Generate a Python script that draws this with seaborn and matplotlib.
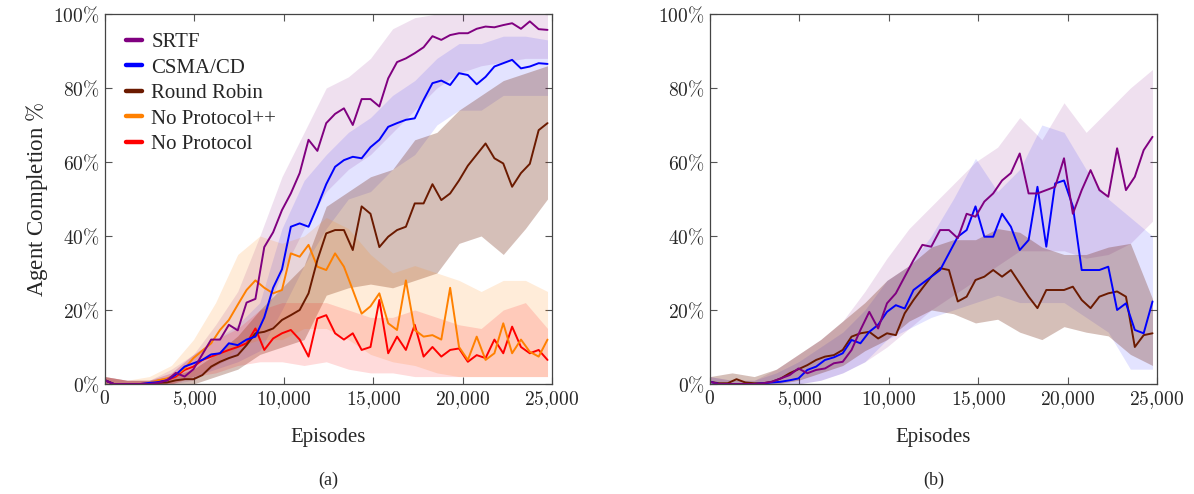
import numpy as np
import pandas as pd
import seaborn as sns
import matplotlib
matplotlib.use('Agg')
from matplotlib import pyplot as plt
from matplotlib.ticker import FuncFormatter

#%% data (agent completion in %)
episodes = np.linspace(0, 24750, 51)

# (a) left panel
a_srtf = [1, 0, 0, 0, 0, 0, 0.3, 1, 3, 2, 4, 8, 12, 12, 16, 14.5, 22, 23, 37, 41,
          47, 51.5, 57, 66, 63, 70.5, 73, 74.5, 70, 77, 77, 75, 82.6, 87, 88, 89.4,
          91, 94, 93, 94.3, 94.8, 94.8, 96, 96.6, 96.4, 97, 97.5, 96, 98, 95.9, 95.7]
a_csma = [1, 0, 0, 0, 0, 0.3, 0.5, 1, 2.5, 4.7, 5.6, 6.5, 8, 8.3, 11, 10.5, 12, 12.8,
          18, 26, 31, 42.5, 43.4, 42.5, 48, 54, 58.7, 60.5, 61.4, 61, 64, 66, 69.5,
          70.5, 71.4, 71.8, 76.8, 81.3, 82, 80.8, 84, 83.5, 81, 83, 85.8, 86.7, 87.6,
          85.3, 85.8, 86.7, 86.5]
a_rr = [1, 0, 0, 0, 0, 0, 0.3, 0.4, 1, 1.3, 1.3, 2.4, 4.7, 6, 7, 7.8, 10.5, 13.7, 14.1,
        15, 17.3, 18.6, 20, 24.5, 33.5, 40.7, 41.6, 41.6, 36.2, 48, 46, 37, 39.8, 41.6,
        42.5, 48.8, 48.8, 54, 49.7, 51.5, 55, 59, 62, 65, 61, 59.6, 53.3, 57, 59.5,
        68.6, 70.5]
a_nopp = [1, 0, 0, 0, 0, 0.2, 1, 1.5, 2.4, 4.2, 7, 9, 11, 14.6, 17.3, 21.4, 25.4, 28,
          26, 24.5, 25.4, 35.3, 34.4, 37.6, 31.7, 30.8, 35.3, 31.7, 25.4, 19, 21, 24.5,
          16.4, 14.6, 28, 14.6, 12.8, 13.2, 12, 26, 10, 6.5, 12.8, 6.5, 8.3, 16.4, 8.3,
          12, 8.7, 7.4, 12]
a_nop = [1, 0, 0, 0, 0, 0.2, 0.6, 1, 2, 3.8, 4.7, 6.5, 7.4, 8.3, 9.2, 10, 11, 15, 9.2,
         12.3, 13.7, 14.6, 12, 7.4, 17.7, 18.6, 13.7, 12, 13.7, 9.2, 10, 22.7, 8.3, 12.8,
         9.2, 16, 7.4, 10, 7.4, 9.2, 9.6, 6, 7.8, 7, 12, 8.3, 15.5, 10, 8.3, 9.2, 6.5]

# (b) right panel
b_srtf = [0.6, 0, 0, 0, 0, 0, 0.2, 0.6, 1.5, 2.4, 4.2, 2.9, 3.8, 4.2, 5.6, 6, 9.2, 14.6,
          19.5, 15, 21.8, 24.5, 29, 33.5, 37.6, 37.1, 41.6, 41.6, 39.4, 46, 45.2, 49.3,
          51.5, 55, 57, 62.3, 51.5, 51.5, 52.4, 53.3, 61, 46, 52.4, 57.8, 52.4, 50.6,
          63.7, 52.4, 56, 63.2, 66.8]
b_csma = [0.6, 0, 0, 0, 0, 0, 0.2, 0.4, 0.6, 1, 1.5, 3.8, 4.7, 6.5, 7.2, 8.3, 11.9, 11,
          14.1, 16, 19.5, 21.3, 20.4, 25.4, 27.2, 29, 30.8, 35.3, 39.8, 41.6, 48, 39.8,
          39.8, 46, 42.5, 36.2, 38.9, 53.3, 37.1, 54.2, 55, 48, 30.8, 30.8, 30.8, 31.7,
          20, 21.8, 14.6, 13.7, 22.3]
b_rr = [0.6, 0.2, 0.2, 1.3, 0.4, 0.2, 0.2, 0.6, 1.5, 2.9, 4, 5.1, 6.5, 7.4, 7.8, 9.2,
        12.8, 13.7, 14.1, 12.3, 13.7, 13.2, 19.1, 22.7, 25.9, 29, 31.3, 30.8, 22.3, 23.6,
        28.1, 29, 30.8, 29, 30.8, 27.2, 23.6, 20.5, 25.4, 25.4, 25.4, 26.3, 22.7, 20.5,
        23.6, 24.5, 25, 23.6, 10, 13.2, 13.7]

# spread bands (min / max over runs), coarser grid
band_episodes = np.linspace(0, 24750, 21)
a_srtf_lo = [0, 0, 0, 0, 1, 5, 8, 15, 30, 42, 52, 58, 62, 68, 74, 80, 84, 86, 87, 88, 88]
a_srtf_hi = [2, 1, 1, 4, 8, 16, 25, 40, 56, 68, 80, 83, 88, 96, 99, 100, 100, 100, 100, 100, 100]
a_csma_lo = [0, 0, 0, 0, 2, 4, 6, 9, 20, 32, 42, 50, 52, 58, 62, 70, 74, 74, 78, 78, 78]
a_csma_hi = [2, 1, 1, 3, 8, 12, 16, 22, 42, 55, 62, 68, 72, 78, 82, 88, 92, 92, 94, 94, 93]
a_rr_lo = [0, 0, 0, 0, 0, 2, 4, 8, 10, 12, 24, 26, 27, 26, 28, 30, 38, 40, 35, 42, 50]
a_rr_hi = [2, 1, 1, 2, 4, 8, 13, 20, 26, 32, 48, 52, 56, 58, 66, 68, 74, 78, 82, 84, 86]
a_nopp_lo = [0, 0, 0, 0, 2, 5, 10, 12, 12, 15, 15, 12, 8, 6, 5, 3, 2, 2, 2, 2, 2]
a_nopp_hi = [2, 1, 2, 5, 12, 22, 35, 40, 38, 40, 45, 42, 35, 30, 32, 30, 28, 25, 28, 28, 25]
a_nop_lo = [0, 0, 0, 0, 2, 3, 5, 6, 6, 5, 6, 4, 3, 3, 2, 2, 2, 2, 2, 2, 2]
a_nop_hi = [2, 1, 1, 3, 8, 12, 15, 20, 22, 22, 22, 20, 18, 18, 20, 18, 16, 15, 20, 22, 15]

b_srtf_lo = [0, 0, 0, 0, 0, 1, 3, 6, 10, 15, 20, 24, 28, 32, 36, 36, 36, 34, 35, 38, 44]
b_srtf_hi = [2, 1, 1, 4, 8, 12, 17, 25, 34, 42, 48, 54, 60, 64, 72, 66, 76, 68, 74, 80, 85]
b_csma_lo = [0, 0, 0, 0, 0, 1, 3, 6, 12, 15, 18, 20, 22, 24, 22, 22, 22, 18, 14, 4, 4]
b_csma_hi = [2, 1, 1, 3, 6, 10, 14, 20, 28, 32, 40, 50, 61, 52, 58, 70, 68, 58, 50, 45, 40]
b_rr_lo = [0, 0, 0, 0, 1, 3, 5, 9, 12, 17, 20, 19, 16.5, 17.5, 14, 12, 15.5, 14, 13, 8, 5]
b_rr_hi = [2, 3, 2, 4, 8, 12, 17, 22, 28, 32, 37, 39, 39, 42, 41, 37, 35, 35, 37, 38, 23]

names = ['SRTF', 'CSMA/CD', 'Round Robin', 'No Protocol++', 'No Protocol']
colors = {'SRTF': '#800080', 'CSMA/CD': '#0000ff', 'Round Robin': '#6b1a00',
          'No Protocol++': '#ff8000', 'No Protocol': '#ff0000'}

panel_a = {'SRTF': (a_srtf, a_srtf_lo, a_srtf_hi),
           'CSMA/CD': (a_csma, a_csma_lo, a_csma_hi),
           'Round Robin': (a_rr, a_rr_lo, a_rr_hi),
           'No Protocol++': (a_nopp, a_nopp_lo, a_nopp_hi),
           'No Protocol': (a_nop, a_nop_lo, a_nop_hi)}
panel_b = {'SRTF': (b_srtf, b_srtf_lo, b_srtf_hi),
           'CSMA/CD': (b_csma, b_csma_lo, b_csma_hi),
           'Round Robin': (b_rr, b_rr_lo, b_rr_hi)}

#%% style
sns.set_theme(style='ticks')
plt.rcParams['font.family'] = ['Liberation Serif', 'DejaVu Serif']
plt.rcParams['mathtext.fontset'] = 'cm'

fig = plt.figure(figsize=(11.94, 4.94), dpi=100)
ax_a = fig.add_axes([0.0879, 0.2227, 0.3744, 0.749])
ax_b = fig.add_axes([0.5946, 0.2227, 0.3744, 0.749])

band_alpha = {'SRTF': 0.12, 'CSMA/CD': 0.11, 'Round Robin': 0.28,
              'No Protocol++': 0.15, 'No Protocol': 0.14}


def draw_panel(ax, panel, legend):
    for name, (_, lo, hi) in panel.items():
        ax.fill_between(band_episodes, lo, hi, color=colors[name],
                        alpha=band_alpha[name], lw=0)
    df = pd.concat([pd.DataFrame({'episode': episodes, 'completion': vals,
                                  'protocol': name})
                    for name, (vals, _, _) in panel.items()])
    order = [n for n in names if n in panel]
    sns.lineplot(data=df, x='episode', y='completion', hue='protocol',
                 hue_order=order[::-1], palette=colors, lw=1.4, ax=ax,
                 legend=legend)
    ax.set_xlim(0, 25000)
    ax.set_ylim(0, 100)
    ax.set_xticks(np.arange(0, 25001, 5000))
    ax.set_yticks(np.arange(0, 101, 20))
    ax.xaxis.set_major_formatter(FuncFormatter(
        lambda v, p: r'$%s$' % ('{:,}'.format(int(v)).replace(',', '{,}'))))
    ax.yaxis.set_major_formatter(FuncFormatter(lambda v, p: r'$%d\%%$' % v))
    ax.tick_params(direction='in', top=True, right=True, length=5,
                   width=0.8, color='#555555', labelsize=14, pad=4)
    for s in ax.spines.values():
        s.set_color('#444444')
        s.set_linewidth(0.9)
    ax.set_xlabel('')
    ax.set_ylabel('')


draw_panel(ax_a, panel_a, True)
draw_panel(ax_b, panel_b, False)

handles, labels = ax_a.get_legend_handles_labels()
lookup = dict(zip(labels, handles))
leg = ax_a.legend([lookup[n] for n in names], names, loc='upper left',
                  frameon=False, fontsize=15, handlelength=0.75,
                  handletextpad=0.45, labelspacing=0.28,
                  bbox_to_anchor=(0.006, 1.0))
for h in leg.legend_handles:
    h.set_linewidth(3.2)

ax_a.set_ylabel(r'Agent Completion $\%$', fontsize=16.5, labelpad=2)
for ax, tag in [(ax_a, '(a)'), (ax_b, '(b)')]:
    box = ax.get_position()
    cx = box.x0 + box.width / 2
    fig.text(cx, 0.115, 'Episodes', ha='center', va='center', fontsize=15)
    fig.text(cx, 0.028, tag, ha='center', va='center', fontsize=13)

plt.savefig('out.png', dpi=100)
